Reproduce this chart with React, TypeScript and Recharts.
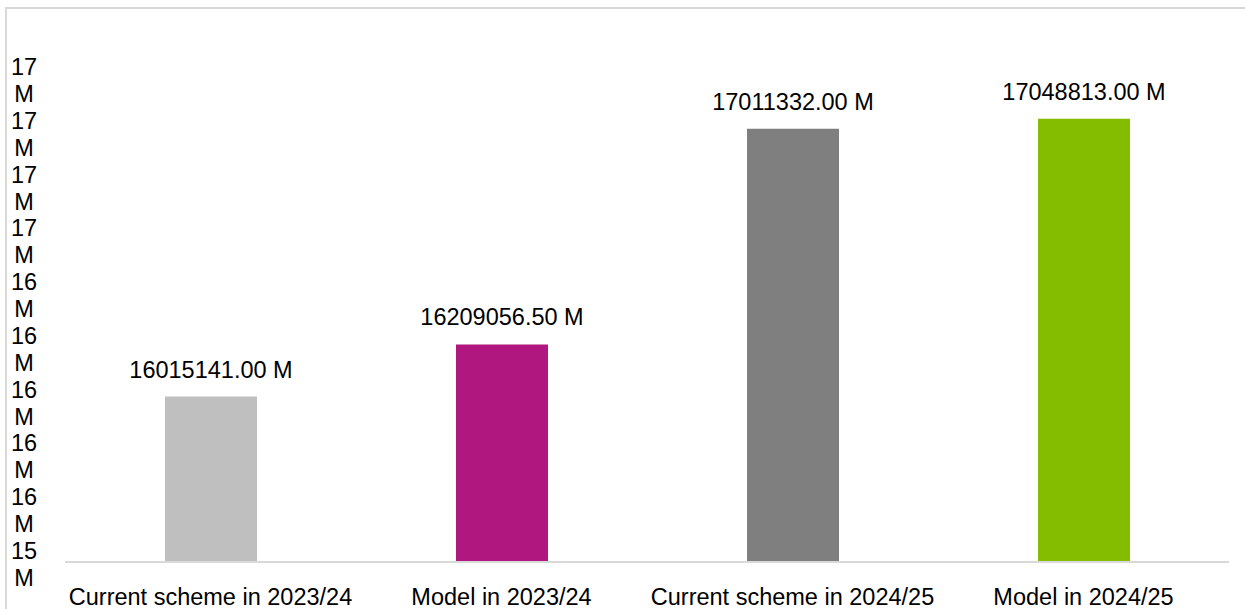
import React from 'react';
import { BarChart, Bar, XAxis, YAxis, Cell, LabelList } from 'recharts';

const categories = [
  'Current scheme in 2023/24',
  'Model in 2023/24',
  'Current scheme in 2024/25',
  'Model in 2024/25',
];
const values = [16015141.0, 16209056.5, 17011332.0, 17048813.0];
const barColors = ['#BFBFBF', '#B0177F', '#7F7F7F', '#84BD00'];
const yTicks = [
  15400000, 15600000, 15800000, 16000000, 16200000,
  16400000, 16600000, 16800000, 17000000, 17200000,
];
const yDomain = [15400000, 17200000];

const data = categories.map((name, i) => ({ name, value: values[i] }));

const FONT = '"Liberation Sans", Arial, sans-serif';
const FS = 23.5;

const YTick = (props: any) => {
  const { x, y, payload } = props;
  const n = Math.round(payload.value / 1e6);
  return (
    <text x={x - 33} y={y} textAnchor="middle" fontFamily={FONT} fontSize={FS} fill="#000">
      <tspan x={x - 33} dy={-3}>{n}</tspan>
      <tspan x={x - 33} dy={27}>M</tspan>
    </text>
  );
};

const XTick = (props: any) => {
  const { x, y, payload } = props;
  return (
    <text x={x} y={y} dy={35} textAnchor="middle" fontFamily={FONT} fontSize={FS} fill="#000">
      {payload.value}
    </text>
  );
};

const ValueLabel = (props: any) => {
  const { x, y, width, value } = props;
  return (
    <text x={x + width / 2} y={y - 19} textAnchor="middle" fontFamily={FONT} fontSize={FS} fill="#000">
      {`${Number(value).toFixed(2)} M`}
    </text>
  );
};

export default function App() {
  return (
    <div style={{ position: 'absolute', left: 0, top: 0, width: 1245, height: 609, overflow: 'hidden', background: '#fff' }}>
      <div style={{ position: 'absolute', left: 5, top: 7, right: -20, bottom: -20, borderTop: '2px solid #D9D9D9', borderLeft: '2px solid #D9D9D9' }} />
      <div style={{ position: 'absolute', left: 0, top: 0 }}>
        <BarChart width={1245} height={609} data={data} margin={{ top: 78, right: 16, bottom: 0, left: 0 }}>
          <XAxis
            dataKey="name"
            height={47}
            axisLine={{ stroke: '#D9D9D9', strokeWidth: 2 }}
            tickLine={false}
            tick={<XTick />}
            interval={0}
          />
          <YAxis
            width={65}
            domain={yDomain}
            ticks={yTicks}
            allowDataOverflow
            axisLine={false}
            tickLine={false}
            tick={<YTick />}
            interval={0}
          />
          <Bar dataKey="value" barSize={92} isAnimationActive={false}>
            {data.map((d, i) => (
              <Cell key={d.name} fill={barColors[i]} />
            ))}
            <LabelList dataKey="value" content={<ValueLabel />} />
          </Bar>
        </BarChart>
      </div>
    </div>
  );
}
